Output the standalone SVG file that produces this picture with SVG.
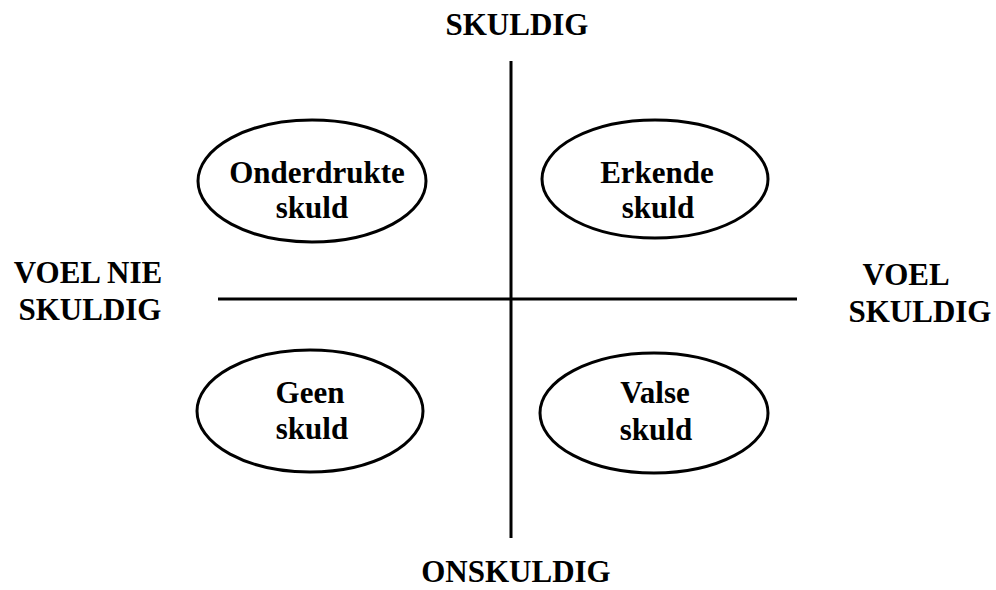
<svg xmlns="http://www.w3.org/2000/svg" width="996" height="590" viewBox="0 0 996 590">
<style>
.t{font-family:"Liberation Serif","Times New Roman",serif;font-weight:bold;font-size:31px;fill:#000;text-anchor:middle}
.e{fill:#fff;stroke:#000;stroke-width:3}
.ax{stroke:#000;stroke-width:3;fill:none}
</style>
<rect width="996" height="590" fill="#fff"/>
<g id="connectors">
<line class="ax" x1="511" y1="61" x2="511" y2="538"/>
<line class="ax" x1="218" y1="299" x2="797" y2="299"/>
</g>
<g id="label-skuldig"><text class="t" x="517" y="35">SKULDIG</text></g>
<g id="label-onskuldig"><text class="t" x="516" y="582">ONSKULDIG</text></g>
<g id="label-voel-nie-skuldig"><text class="t" x="88" y="283">VOEL NIE</text><text class="t" x="90" y="320">SKULDIG</text></g>
<g id="label-voel-skuldig"><text class="t" x="906" y="285">VOEL</text><text class="t" x="920" y="322">SKULDIG</text></g>
<g id="onderdrukte"><ellipse class="e" cx="312" cy="181" rx="114" ry="61"/><text class="t" x="317" y="183">Onderdrukte</text><text class="t" x="312" y="218">skuld</text></g>
<g id="erkende"><ellipse class="e" cx="655" cy="179" rx="113" ry="59"/><text class="t" x="657" y="183">Erkende</text><text class="t" x="658" y="218">skuld</text></g>
<g id="geen"><ellipse class="e" cx="310" cy="411" rx="113" ry="61"/><text class="t" x="310" y="403">Geen</text><text class="t" x="312" y="439">skuld</text></g>
<g id="valse"><ellipse class="e" cx="654" cy="413" rx="114" ry="60"/><text class="t" x="655" y="403">Valse</text><text class="t" x="656" y="440">skuld</text></g>
</svg>
